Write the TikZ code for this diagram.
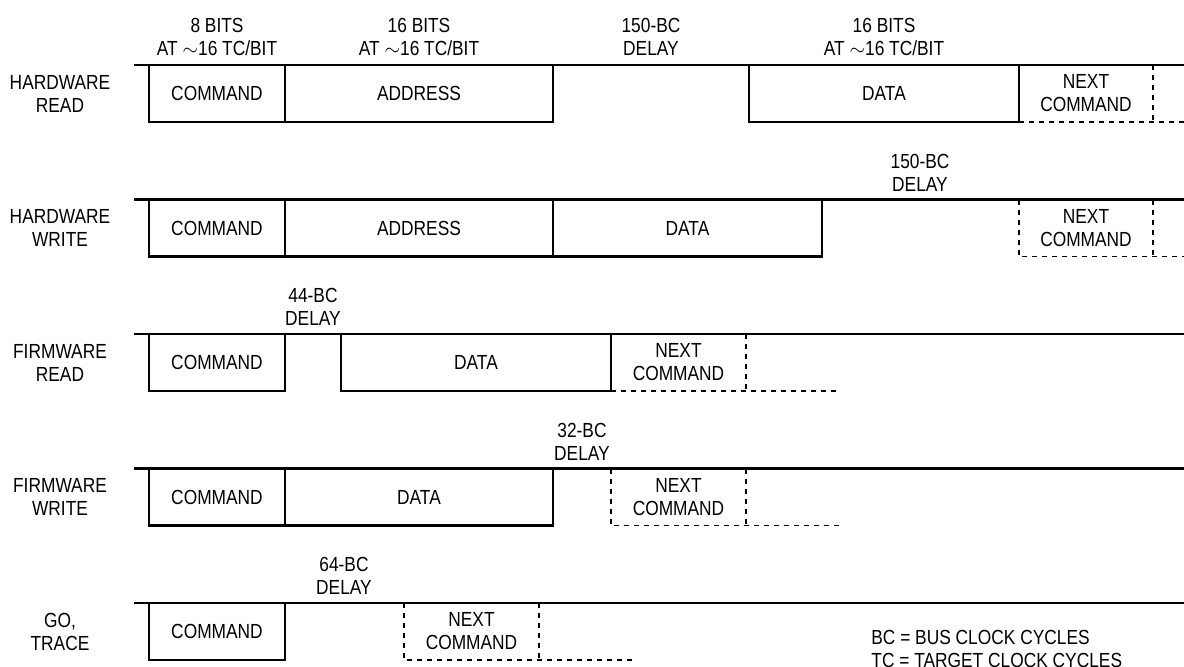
\documentclass[tikz,border=0pt]{standalone}
\usepackage{fontspec}
\setmainfont{Liberation Sans}[FakeStretch=0.85]
\usetikzlibrary{positioning}

\tikzset{
  sig/.style={line width=1.1pt},
  nextcmd/.style={line width=0.7pt, dash pattern=on 2.5pt off 2.5pt},
  txt/.style={align=center, inner sep=0pt, font=\fontsize{10.2}{11.5}\selectfont},
  note/.style={txt, anchor=south},
}

\begin{document}
\begin{tikzpicture}[x=0.5pt, y=-0.5pt]
  \useasboundingbox (0,0) rectangle (1184,666);
  % bus line, row name and command field of every transfer
  \foreach \y/\nm/\lab in {65/hwrd/{HARDWARE\\READ}, 199.5/hwwr/{HARDWARE\\WRITE},
      334/fwrd/{FIRMWARE\\READ}, 468.5/fwwr/{FIRMWARE\\WRITE}, 603/go/{GO,\\TRACE}} {
    \draw[sig] (134,\y) -- (1184,\y);
    \draw[sig] (149,\y) rectangle (285,\y+57);
    \node[txt] (\nm) at (60,\y+28.5) {\lab};
    \node[txt] (\nm-cmd) at (217,\y+28.5) {COMMAND};
  }
  % hardware read
  \draw[sig] (285,65) rectangle (553,122);
  \draw[sig] (749,65) rectangle (1019,122);
  \node[txt] (hwrd-adr) at (419,93.5) {ADDRESS};
  \node[txt] (hwrd-dat) at (884,93.5) {DATA};
  \draw[nextcmd] (1019,122) -- (1184,122);
  \draw[nextcmd] (1153,65) -- (1153,122);
  \node[txt] (hwrd-nxt) at (1086,93.5) {NEXT\\COMMAND};
  \node[note] (bits8) at (217,56) {8 BITS\\AT {$\sim$}16 TC/BIT};
  \node[note] (bits16a) at (419,56) {16 BITS\\AT {$\sim$}16 TC/BIT};
  \node[note] (dly150a) at (651,56) {150-BC\\DELAY};
  \node[note] (bits16b) at (884,56) {16 BITS\\AT {$\sim$}16 TC/BIT};
  % hardware write
  \draw[sig] (285,199.5) rectangle (553,256.5);
  \draw[sig] (553,199.5) rectangle (822,256.5);
  \node[txt] (hwwr-adr) at (419,228) {ADDRESS};
  \node[txt] (hwwr-dat) at (687.5,228) {DATA};
  \draw[nextcmd] (1019,199.5) -- (1019,256.5) -- (1184,256.5);
  \draw[nextcmd] (1153,199.5) -- (1153,256.5);
  \node[txt] (hwwr-nxt) at (1086,228) {NEXT\\COMMAND};
  \node[note] (dly150b) at (920,191.5) {150-BC\\DELAY};
  % firmware read
  \draw[sig] (341,334) rectangle (611,391);
  \node[txt] (fwrd-dat) at (476,362.5) {DATA};
  \draw[nextcmd] (611,391) -- (839,391);
  \draw[nextcmd] (746,334) -- (746,391);
  \node[txt] (fwrd-nxt) at (678.5,362.5) {NEXT\\COMMAND};
  \node[note] (dly44) at (313,326) {44-BC\\DELAY};
  % firmware write
  \draw[sig] (285,468.5) rectangle (553,525.5);
  \node[txt] (fwwr-dat) at (419,497) {DATA};
  \draw[nextcmd] (611,468.5) -- (611,525.5) -- (839,525.5);
  \draw[nextcmd] (746,468.5) -- (746,525.5);
  \node[txt] (fwwr-nxt) at (678.5,497) {NEXT\\COMMAND};
  \node[note] (dly32) at (582,460.5) {32-BC\\DELAY};
  % go, trace
  \draw[nextcmd] (404,603) -- (404,660) -- (633,660);
  \draw[nextcmd] (539,603) -- (539,660);
  \node[txt] (go-nxt) at (471.5,631.5) {NEXT\\COMMAND};
  \node[note] (dly64) at (344,595) {64-BC\\DELAY};
  % legend
  \node[txt, align=left, anchor=north west] (legend) at (871,630)
    {BC = BUS CLOCK CYCLES\\TC = TARGET CLOCK CYCLES};
\end{tikzpicture}
\end{document}
